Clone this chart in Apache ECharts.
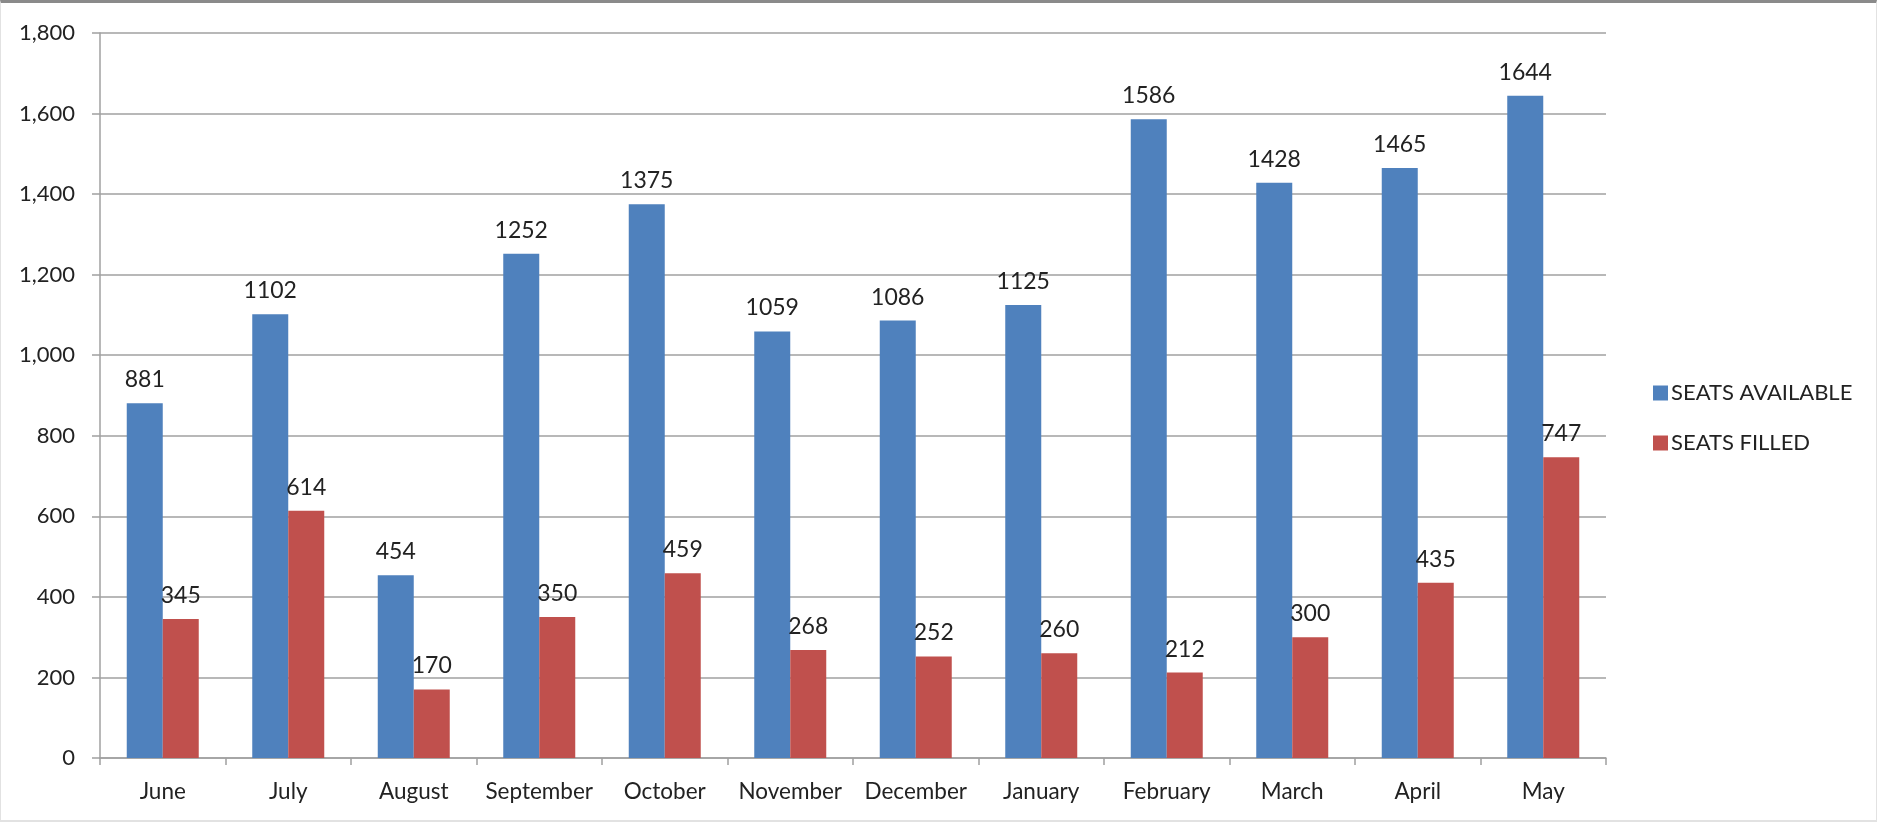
<!DOCTYPE html>
<html>
<head>
<meta charset="utf-8">
<script src="https://cdn.jsdelivr.net/npm/echarts@6/dist/echarts.min.js"></script>
<style>
  html, body { margin: 0; padding: 0; background: #fff; }
  #frame {
    position: absolute; left: 0; top: 0; width: 1877px; height: 822px;
    box-sizing: border-box;
    border-top: 3px solid #8a8a8a;
    border-left: 1px solid #e2e2e2; border-right: 1px solid #e2e2e2; border-bottom: 2px solid #e2e2e2;
  }
  #chart { position: absolute; left: 0; top: 0; width: 1877px; height: 822px; }
</style>
</head>
<body>
<div id="frame"></div>
<div id="chart"></div>
<script>
const months = ['June', 'July', 'August', 'September', 'October', 'November',
  'December', 'January', 'February', 'March', 'April', 'May']
const seatsAvailable = [881, 1102, 454, 1252, 1375, 1059, 1086, 1125, 1586, 1428, 1465, 1644]
const seatsFilled = [345, 614, 170, 350, 459, 268, 252, 260, 212, 300, 435, 747]
const yTicks = { min: 0, max: 1800, interval: 200 }

const font = 'Lato, "Open Sans", sans-serif'
const chart = echarts.init(document.getElementById('chart'), null, { renderer: 'canvas' })

const barLabel = {
  show: true,
  position: 'top',
  distance: 12,
  color: '#222',
  fontFamily: font,
  fontSize: 23
}

chart.setOption({
  animation: false,
  textStyle: { fontFamily: font },
  grid: { left: 100, right: 271, top: 33, bottom: 64, containLabel: false },
  legend: {
    orient: 'vertical',
    left: 1648,
    top: 377,
    itemWidth: 15,
    itemHeight: 15,
    itemGap: 28,
    icon: 'rect',
    textStyle: { color: '#222', fontSize: 22, fontFamily: font, padding: [0, 0, 0, -2] },
    data: ['SEATS AVAILABLE', 'SEATS FILLED']
  },
  xAxis: {
    type: 'category',
    data: months,
    axisLine: { lineStyle: { color: '#a0a0a0', width: 1.5 } },
    axisTick: { show: true, length: 7, lineStyle: { color: '#a0a0a0', width: 1.5 } },
    axisLabel: { color: '#222', fontSize: 22.5, margin: 22, fontFamily: font, interval: 0 }
  },
  yAxis: {
    type: 'value',
    min: yTicks.min,
    max: yTicks.max,
    interval: yTicks.interval,
    axisLine: { show: true, lineStyle: { color: '#a0a0a0', width: 1.5 } },
    axisTick: { show: true, length: 8, lineStyle: { color: '#a0a0a0', width: 1.5 } },
    splitLine: { lineStyle: { color: '#a0a0a0', width: 1.5 } },
    axisLabel: {
      color: '#222', fontSize: 22, margin: 25, fontFamily: font,
      formatter: (v) => v.toLocaleString('en-US')
    }
  },
  series: [
    {
      name: 'SEATS AVAILABLE',
      type: 'bar',
      data: seatsAvailable,
      barWidth: 36,
      barGap: '0%',
      itemStyle: { color: '#4f81bd' },
      label: barLabel
    },
    {
      name: 'SEATS FILLED',
      type: 'bar',
      data: seatsFilled,
      barWidth: 36,
      barGap: '0%',
      itemStyle: { color: '#c0504d' },
      label: barLabel
    }
  ]
})
</script>
</body>
</html>
